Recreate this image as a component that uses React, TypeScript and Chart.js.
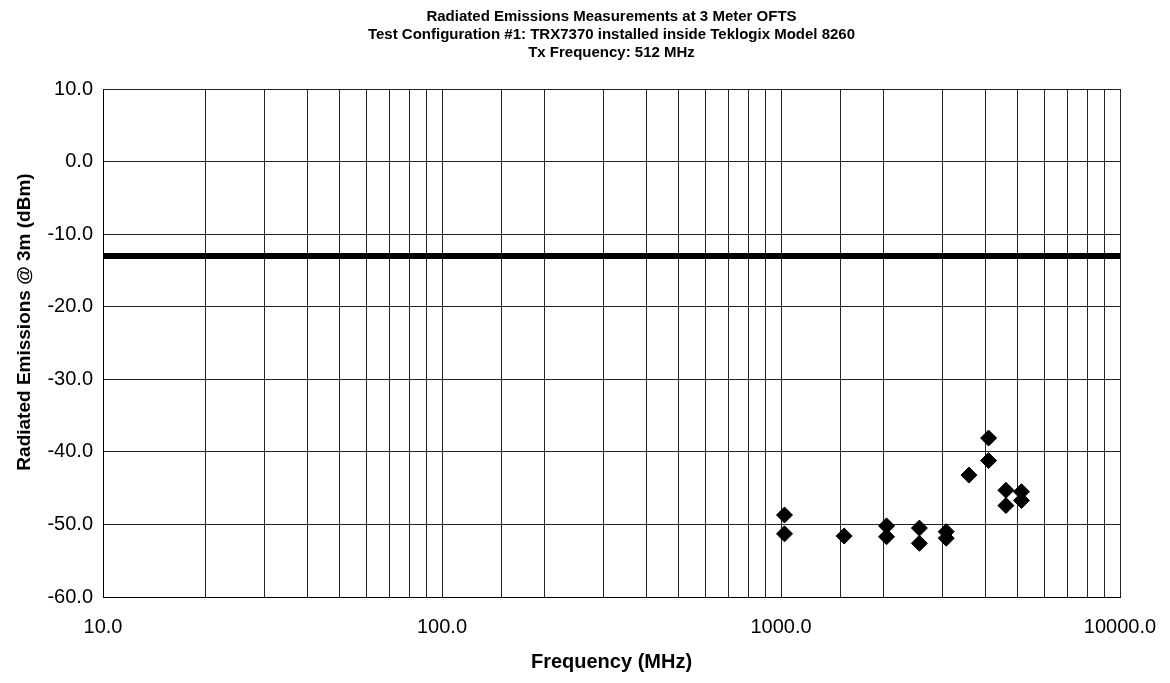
import React, { useEffect, useRef } from "react";
import { Chart, registerables } from "chart.js";

Chart.register(...registerables);

// Title lines
const TITLE_LINES = [
  "Radiated Emissions Measurements at 3 Meter OFTS",
  "Test Configuration #1: TRX7370 installed inside Teklogix Model 8260",
  "Tx Frequency: 512 MHz",
];
const X_TITLE = "Frequency (MHz)";
const Y_TITLE = "Radiated Emissions @ 3m (dBm)";

// Measured emissions (harmonics of 512 MHz)
const FREQ_MHZ = [1024, 1024, 1536, 2048, 2048, 2560, 2560, 3072, 3072, 3584, 4096, 4096, 4608, 4608, 5120, 5120];
const LEVEL_DBM = [-48.7, -51.3, -51.6, -50.2, -51.7, -50.5, -52.6, -51.0, -51.9, -43.2, -38.1, -41.2, -45.3, -47.4, -45.5, -46.7];

// Limit line
const LIMIT_FREQ = [10, 10000];
const LIMIT_DBM = [-13, -13];

// Axis tick labels
const X_MAJOR = [10, 100, 1000, 10000];
const Y_MIN = -60;
const Y_MAX = 10;
const Y_STEP = 10;

const FONT = "'Liberation Sans', Arial, Helvetica, sans-serif";

const yTitlePlugin = {
  id: "yTitle",
  afterDraw(chart: any) {
    const { ctx, chartArea } = chart;
    ctx.save();
    ctx.fillStyle = "#000";
    ctx.font = `bold 19px ${FONT}`;
    ctx.textAlign = "center";
    ctx.textBaseline = "middle";
    ctx.translate(17, (chartArea.top + chartArea.bottom) / 2 - 21);
    ctx.rotate(-Math.PI / 2);
    ctx.fillText(Y_TITLE, 0, 0);
    ctx.restore();
  },
};

export default function App() {
  const ref = useRef<HTMLCanvasElement | null>(null);

  useEffect(() => {
    if (!ref.current) return;
    const chart = new Chart(ref.current, {
      type: "scatter",
      data: {
        datasets: [
          {
            type: "line",
            label: "Limit",
            data: LIMIT_FREQ.map((f, i) => ({ x: f, y: LIMIT_DBM[i] })),
            borderColor: "#000",
            backgroundColor: "#000",
            borderWidth: 6,
            borderCapStyle: "round",
            pointRadius: 0,
            fill: false,
          },
          {
            label: "Emissions",
            data: FREQ_MHZ.map((f, i) => ({ x: f, y: LEVEL_DBM[i] })),
            pointStyle: "rectRot",
            pointRadius: 8,
            pointBorderWidth: 1,
            borderColor: "#000",
            backgroundColor: "#000",
          },
        ],
      },
      options: {
        animation: false,
        responsive: true,
        maintainAspectRatio: false,
        layout: { padding: { top: 0, right: 42, bottom: 0, left: 0 } },
        plugins: {
          legend: { display: false },
          tooltip: { enabled: false },
          title: {
            display: true,
            text: TITLE_LINES,
            fullSize: false,
            color: "#000",
            font: { family: FONT, size: 15, weight: "bold", lineHeight: 1.2 },
            padding: { top: 0, bottom: 27 },
          },
        },
        scales: {
          x: {
            type: "logarithmic",
            min: 10,
            max: 10000,
            afterFit: (s: any) => {
              s.height = 78;
              s.paddingRight = 0;
              s.paddingLeft = 0;
            },
            grid: { color: "#222", lineWidth: 1, drawTicks: false },
            border: { color: "#000", width: 1 },
            ticks: {
              autoSkip: false,
              maxRotation: 0,
              padding: 18,
              color: "#000",
              font: { family: FONT, size: 20 },
              callback: (v: any) => {
                const n = Number(v);
                return X_MAJOR.includes(n) ? n.toFixed(1) : "";
              },
            },
            title: {
              display: true,
              text: X_TITLE,
              color: "#000",
              font: { family: FONT, size: 20, weight: "bold", lineHeight: 1.2 },
              padding: { top: 0, bottom: 1 },
            },
          },
          y: {
            min: Y_MIN,
            max: Y_MAX,
            afterFit: (s: any) => {
              s.width = 95;
            },
            grid: { color: "#222", lineWidth: 1, drawTicks: false },
            border: { color: "#000", width: 1 },
            ticks: {
              stepSize: Y_STEP,
              padding: 10,
              color: "#000",
              font: { family: FONT, size: 20 },
              callback: (v: any) => Number(v).toFixed(1),
            },
          },
        },
      },
      plugins: [yTitlePlugin],
    });
    return () => chart.destroy();
  }, []);

  return (
    <div style={{ position: "relative", width: 1154, height: 667 }}>
      <canvas ref={ref} />
    </div>
  );
}
